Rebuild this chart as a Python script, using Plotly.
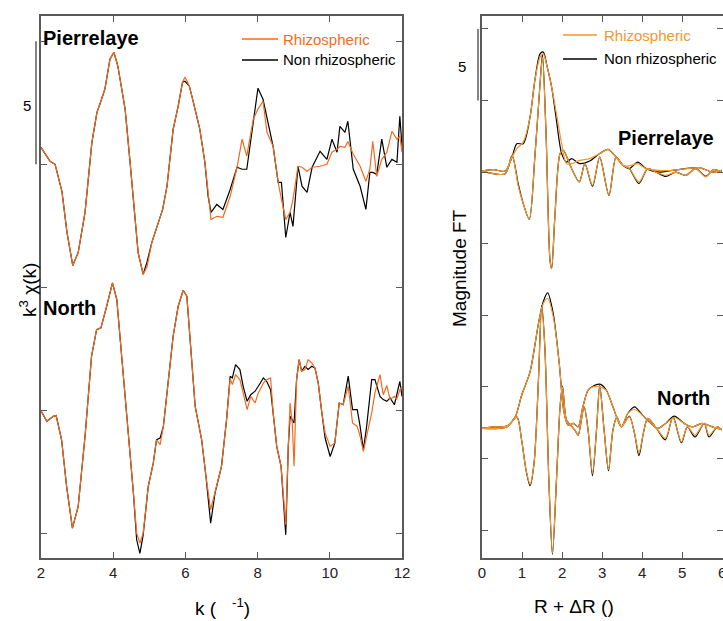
import plotly.graph_objects as go

W, H = 723, 621
FONT = "Liberation Sans, Arial, sans-serif"
ORANGE_L = "#F26B21"
ORANGE_R = "#F7962A"
AXC = "#5a5a5a"

# ---------------- left panel: k^3 chi(k) ----------------
k_pierrelaye = [2.00, 2.25, 2.39, 2.58, 2.72, 2.88, 3.03, 3.22, 3.41, 3.55, 3.63, 3.77, 3.91, 4.02, 4.13,
                4.33, 4.46, 4.60, 4.69, 4.83, 4.94, 5.07, 5.21, 5.37, 5.49, 5.66, 5.80, 5.92, 5.99, 6.11,
                6.22, 6.40, 6.54, 6.63, 6.71, 6.87, 7.04, 7.24, 7.43, 7.57, 7.70, 7.88, 8.01, 8.15, 8.26,
                8.43, 8.57, 8.66, 8.78, 8.90, 8.98, 9.12, 9.23, 9.37, 9.51, 9.73, 9.92, 10.06, 10.20, 10.28,
                10.42, 10.50, 10.65, 10.84, 11.00, 11.11, 11.19, 11.30, 11.44, 11.58, 11.72, 11.86, 11.94, 12.00]
pierrelaye_rhizo = [15.69, 15.12, 15.00, 13.90, 12.24, 10.89, 11.42, 13.05, 15.89, 17.11, 17.44, 18.05, 19.27, 19.55, 18.98,
                    17.24, 15.20, 13.05, 11.42, 10.53, 10.85, 11.83, 12.48, 13.17, 14.11, 16.42, 17.36, 18.33, 18.54, 18.17,
                    17.52, 16.42, 15.08, 13.70, 12.76, 12.89, 12.85, 13.70, 14.88, 16.02, 15.33, 16.83, 17.24, 17.56, 16.30,
                    15.73, 14.27, 13.58, 12.76, 13.05, 13.58, 14.92, 14.88, 14.72, 14.88, 14.92, 15.00, 15.49, 15.61, 15.73,
                    15.69, 15.93, 15.41, 14.92, 14.31, 14.80, 15.93, 14.51, 15.20, 15.49, 16.34, 16.02, 16.14, 15.49]
pierrelaye_non = [15.69, 15.12, 15.00, 13.90, 12.24, 10.89, 11.42, 13.05, 15.89, 17.11, 17.44, 18.05, 19.27, 19.55, 18.98,
                  17.24, 15.20, 13.05, 11.42, 10.53, 11.05, 11.83, 12.48, 13.17, 14.11, 16.42, 17.36, 18.33, 18.37, 18.17,
                  17.52, 16.42, 15.08, 13.70, 13.05, 13.37, 13.17, 13.98, 14.88, 14.80, 14.80, 16.83, 18.09, 17.64, 16.83,
                  15.73, 14.27, 14.27, 12.03, 13.05, 12.48, 14.92, 14.11, 13.86, 14.88, 15.53, 15.20, 16.02, 15.49, 16.54,
                  16.30, 16.75, 14.80, 14.11, 13.17, 14.67, 14.67, 14.59, 16.02, 14.88, 15.20, 15.08, 16.95, 15.73]

k_north = [2.00, 2.16, 2.34, 2.42, 2.57, 2.71, 2.87, 3.03, 3.22, 3.40, 3.54, 3.66, 3.82, 3.98, 4.10,
           4.28, 4.42, 4.56, 4.65, 4.74, 4.83, 4.97, 5.11, 5.20, 5.30, 5.39, 5.53, 5.66, 5.80, 5.94,
           6.04, 6.13, 6.27, 6.45, 6.57, 6.70, 6.82, 7.00, 7.14, 7.24, 7.30, 7.39, 7.51, 7.60, 7.71,
           7.81, 7.93, 8.02, 8.16, 8.25, 8.36, 8.43, 8.53, 8.65, 8.71, 8.78, 8.85, 8.90, 8.96, 9.01,
           9.08, 9.15, 9.22, 9.31, 9.40, 9.50, 9.59, 9.68, 9.78, 9.87, 10.01, 10.14, 10.26, 10.37, 10.51,
           10.63, 10.76, 10.84, 10.93, 11.02, 11.16, 11.25, 11.39, 11.48, 11.58, 11.67, 11.79, 11.85, 11.94, 12.00]
north_non = [5.00, 4.57, 4.77, 4.80, 3.82, 1.92, 0.23, 1.11, 3.96, 7.21, 8.29, 8.36, 9.24, 10.19, 9.51,
             6.53, 4.23, 1.65, -0.24, -0.79, -0.05, 1.92, 2.87, 3.82, 3.89, 4.36, 6.26, 8.02, 9.24, 9.89,
             9.65, 7.89, 5.18, 3.82, 2.33, 0.43, 1.65, 2.74, 4.63, 6.40, 6.33, 6.87, 6.67, 5.99, 5.38,
             5.65, 5.79, 5.99, 6.33, 6.19, 5.85, 4.91, 3.55, 2.74, 1.52, -0.04, 3.55, 4.77, 4.63, 4.50,
             6.26, 7.07, 6.60, 6.80, 6.67, 6.80, 6.73, 6.12, 4.91, 3.89, 3.14, 3.69, 5.31, 5.24, 6.40,
             5.04, 5.04, 4.36, 3.41, 4.36, 6.26, 6.26, 5.58, 5.45, 5.38, 5.52, 5.24, 5.65, 6.19, 5.58]
north_rhizo = [5.00, 4.57, 4.77, 4.80, 3.82, 1.92, 0.23, 1.11, 3.96, 7.21, 8.29, 8.36, 9.24, 10.19, 9.51,
               6.53, 4.23, 1.65, 0.03, -0.38, 0.03, 1.92, 2.87, 3.82, 3.62, 4.36, 6.26, 8.02, 9.24, 9.89,
               9.65, 7.89, 5.18, 3.82, 2.33, 0.98, 1.65, 2.74, 4.63, 6.30, 6.06, 6.46, 6.26, 5.72, 5.04,
               5.58, 5.31, 5.72, 6.12, 6.26, 6.33, 4.91, 3.55, 2.74, 1.52, 0.37, 3.55, 5.31, 4.50, 2.74,
               6.26, 7.07, 6.60, 6.67, 7.07, 6.94, 6.73, 6.12, 4.91, 4.09, 3.55, 3.69, 5.31, 5.24, 5.99,
               4.50, 4.36, 3.96, 3.35, 3.96, 4.91, 5.72, 6.46, 5.65, 6.02, 5.45, 5.58, 5.45, 5.85, 5.99]

# ---------------- right panel: Fourier transform ----------------
r_pierrelaye_mag = [0, 0.29, 0.58, 0.75, 0.87, 1.03, 1.20, 1.32, 1.45, 1.53, 1.63, 1.74, 1.86, 1.99, 2.11,
                    2.24, 2.44, 2.69, 2.94, 3.15, 3.35, 3.52, 3.68, 3.89, 4.10, 4.43, 4.76, 5.42, 5.75, 5.99]
pierrelaye_mag_rhizo = [25.07, 25.17, 25.07, 26.05, 26.64, 27.10, 28.84, 31.40, 33.03, 33.26, 32.33, 30.94, 29.08, 26.98, 25.59,
                        25.59, 25.82, 25.94, 26.29, 26.59, 26.05, 25.47, 25.43, 25.59, 25.24, 25.12, 25.12, 25.31, 25.00, 25.12]
pierrelaye_mag_non = [25.07, 25.17, 25.07, 26.05, 26.98, 26.98, 28.84, 31.40, 33.26, 33.38, 32.33, 30.94, 28.61, 26.29, 25.70,
                      25.94, 25.59, 25.77, 26.29, 26.59, 26.05, 25.47, 25.24, 25.70, 25.24, 25.00, 25.12, 25.31, 25.00, 25.12]
r_pierrelaye_im = [0, 0.58, 0.75, 0.91, 1.03, 1.18, 1.32, 1.45, 1.51, 1.60, 1.70, 1.74, 1.82, 1.95, 2.03, 2.24, 2.43,
                   2.57, 2.76, 2.94, 3.17, 3.35, 3.52, 3.68, 3.92, 4.14, 4.35, 4.59, 4.84, 5.09, 5.34, 5.59, 5.79, 5.99]
pierrelaye_im_rhizo = [25.07, 24.89, 26.17, 23.96, 22.80, 21.70, 26.05, 31.17, 33.03, 27.68, 18.80, 18.26, 21.86, 26.29, 26.52,
                       25.24, 24.31, 25.59, 24.08, 26.05, 23.38, 26.05, 25.47, 25.24, 24.31, 25.24, 25.00, 24.77, 25.00,
                       24.77, 25.24, 24.66, 25.17, 25.00]
pierrelaye_im_non = [25.07, 24.89, 26.17, 24.10, 22.80, 21.70, 26.05, 31.17, 33.20, 27.68, 18.80, 18.26, 21.86, 26.29, 26.52,
                     25.24, 24.31, 25.59, 24.00, 26.05, 23.38, 26.05, 25.47, 25.24, 24.20, 25.24, 25.00, 24.70, 25.00,
                     24.77, 25.24, 24.70, 25.17, 25.00]

r_north_mag = [0, 0.29, 0.62, 0.83, 0.99, 1.20, 1.41, 1.53, 1.64, 1.78, 1.93, 2.04, 2.15, 2.28, 2.40, 2.52, 2.65,
               2.77, 2.94, 3.10, 3.27, 3.48, 3.64, 3.81, 4.01, 4.22, 4.39, 4.59, 4.80, 5.05, 5.26, 5.50, 5.75, 5.99]
north_mag_rhizo = [7.10, 7.21, 7.26, 7.91, 9.42, 11.05, 14.42, 15.82, 16.17, 14.89, 11.63, 8.37, 7.33, 7.45, 7.21, 8.61, 9.77,
                   10.00, 10.00, 9.77, 8.61, 7.21, 8.14, 8.42, 8.03, 7.45, 7.10, 7.45, 7.86, 7.45, 7.21, 7.45, 7.21, 7.03]
north_mag_non = [7.10, 7.21, 7.26, 7.91, 9.42, 11.05, 14.42, 15.95, 16.56, 15.10, 11.63, 8.37, 7.33, 7.45, 7.21, 8.61, 9.77,
                 10.05, 10.19, 9.80, 8.61, 7.21, 8.14, 8.61, 8.03, 7.45, 7.10, 7.45, 7.96, 7.45, 7.21, 7.45, 7.21, 7.03]
r_north_im = [0, 0.62, 0.87, 0.99, 1.10, 1.20, 1.30, 1.41, 1.49, 1.57, 1.67, 1.76, 1.86, 1.95, 2.01, 2.11, 2.21, 2.32,
              2.40, 2.55, 2.65, 2.76, 2.86, 2.94, 3.05, 3.16, 3.27, 3.37, 3.48, 3.68, 3.81, 3.92, 4.03, 4.14, 4.36,
              4.58, 4.77, 4.98, 5.13, 5.32, 5.55, 5.67, 5.88, 5.99]
north_im_rhizo = [7.10, 7.21, 7.91, 6.28, 4.19, 3.21, 4.65, 10.47, 15.58, 12.79, 3.49, -1.63, 3.49, 8.61, 10.00, 7.68, 7.33,
                  6.98, 6.63, 8.61, 6.98, 4.00, 6.98, 10.05, 6.98, 4.23, 6.98, 7.91, 7.21, 7.91, 6.75, 5.40, 6.75, 7.80,
                  7.10, 6.40, 7.86, 6.16, 7.21, 6.63, 7.45, 6.63, 7.21, 6.98]
north_im_non = [7.10, 7.21, 7.91, 6.28, 4.19, 3.10, 4.65, 10.47, 15.70, 12.79, 3.49, -1.70, 3.49, 8.61, 10.05, 7.68, 7.33,
                6.98, 6.63, 8.61, 6.98, 3.80, 6.98, 10.10, 6.98, 4.15, 6.98, 7.91, 7.21, 7.95, 6.75, 5.20, 6.75, 7.80,
                7.10, 6.30, 7.90, 6.10, 7.21, 6.50, 7.45, 6.50, 7.21, 6.98]

left_yticks = [0, 5, 10, 15, 20]
right_yticks = [0, 5, 10, 15, 20, 25, 30, 35]
left_xticks = [2, 4, 6, 8, 10, 12]
right_xticks = [0, 1, 2, 3, 4, 5, 6]


def px(x):
    return x / W


def py(y):
    return 1 - y / H


fig = go.Figure()

lw = 1.2
for xs, ys, col in [(k_pierrelaye, pierrelaye_non, "black"), (k_pierrelaye, pierrelaye_rhizo, ORANGE_L),
                    (k_north, north_non, "black"), (k_north, north_rhizo, ORANGE_L)]:
    fig.add_trace(go.Scatter(x=xs, y=ys, mode="lines", line=dict(color=col, width=lw),
                             xaxis="x", yaxis="y", showlegend=False, hoverinfo="skip"))

for xs, ys, col in [(r_pierrelaye_mag, pierrelaye_mag_non, "black"), (r_pierrelaye_im, pierrelaye_im_non, "black"),
                    (r_north_mag, north_mag_non, "black"), (r_north_im, north_im_non, "black"),
                    (r_pierrelaye_mag, pierrelaye_mag_rhizo, ORANGE_R), (r_pierrelaye_im, pierrelaye_im_rhizo, ORANGE_R),
                    (r_north_mag, north_mag_rhizo, ORANGE_R), (r_north_im, north_im_rhizo, ORANGE_R)]:
    fig.add_trace(go.Scatter(x=xs, y=ys, mode="lines",
                             line=dict(color=col, width=lw, shape="spline", smoothing=0.8),
                             xaxis="x2", yaxis="y2", showlegend=False, hoverinfo="skip"))

ydom = [py(558), py(16)]
axis_common = dict(showline=True, linecolor=AXC, linewidth=1.5, ticks="inside", ticklen=6,
                   tickcolor=AXC, tickwidth=1.3, showgrid=False, zeroline=False, automargin=False,
                   tickfont=dict(family=FONT, size=15, color="#222"))

fig.update_layout(
    width=W, height=H, margin=dict(l=0, r=0, t=0, b=0, pad=0, autoexpand=False),
    paper_bgcolor="white", plot_bgcolor="white",
    xaxis=dict(domain=[px(41), px(402)], range=[2, 12], tickvals=left_xticks, mirror="allticks",
               anchor="y", **axis_common),
    yaxis=dict(domain=ydom, range=[-0.98, 21.02], tickvals=left_yticks, showticklabels=False,
               mirror="allticks", anchor="x", **axis_common),
    xaxis2=dict(domain=[px(482), 1.0], range=[0, 6.02], tickvals=right_xticks, mirror="allticks",
                anchor="y2", ticklabeloverflow="allow", **axis_common),
    yaxis2=dict(domain=ydom, range=[-1.95, 35.9], tickvals=right_yticks, showticklabels=False,
                mirror="allticks", anchor="x2", **axis_common),
)

shapes = []
# scale bars
shapes.append(dict(type="line", xref="paper", yref="y", x0=px(36), x1=px(36), y0=15, y1=20,
                   line=dict(color=AXC, width=1.5)))
shapes.append(dict(type="line", xref="paper", yref="y2", x0=px(478), x1=px(478), y0=30, y1=35,
                   line=dict(color=AXC, width=1.5)))
# legend samples
for (x0, x1, y, col) in [(242, 278, 39, ORANGE_L), (242, 278, 60, "black"),
                         (563, 597, 35, ORANGE_R), (563, 597, 59, "black")]:
    shapes.append(dict(type="line", xref="paper", yref="paper", x0=px(x0), x1=px(x1), y0=py(y), y1=py(y),
                       line=dict(color=col, width=1.3)))
fig.update_layout(shapes=shapes)

ann = []


def add_text(text, x, y, size=15, color="black", xanchor="left", bold=False, angle=0):
    ann.append(dict(text=f"<b>{text}</b>" if bold else text, x=px(x), y=py(y), xref="paper", yref="paper",
                    showarrow=False, xanchor=xanchor, yanchor="middle", textangle=angle, borderpad=0,
                    font=dict(family=FONT, size=size, color=color)))


add_text("Pierrelaye", 42, 38, size=20, bold=True)
add_text("North", 42, 308, size=20, bold=True)
add_text("Pierrelaye", 617, 138, size=20, bold=True)
add_text("North", 656, 398, size=20, bold=True)
add_text("Rhizospheric", 282, 39, color=ORANGE_L)
add_text("Non rhizospheric", 282, 60)
add_text("Rhizospheric", 603, 35, color=ORANGE_R)
add_text("Non rhizospheric", 603, 59)
add_text("5", 27, 106, xanchor="center")
add_text("5", 462, 66, xanchor="center")
add_text("k<sup>3</sup> χ(k)", 28, 290, size=19, xanchor="center", angle=-90)
add_text("k (\u00a0\u00a0\u00a0<sup>-1</sup>)", 222, 607, size=19, xanchor="center")
add_text("Magnitude FT", 460, 268, size=19, xanchor="center", angle=-90)
add_text("R + ΔR ()", 574, 606, size=19, xanchor="center")
fig.update_layout(annotations=ann)

post = ("var gd=document.getElementById('{plot_id}');"
        "gd.style.position='fixed';gd.style.left='0px';gd.style.top='0px';"
        "document.body.style.margin='0px';document.documentElement.style.overflow='hidden';"
        "document.body.style.overflow='hidden';")
fig.write_html("out.html", config={"displayModeBar": False}, post_script=post)
